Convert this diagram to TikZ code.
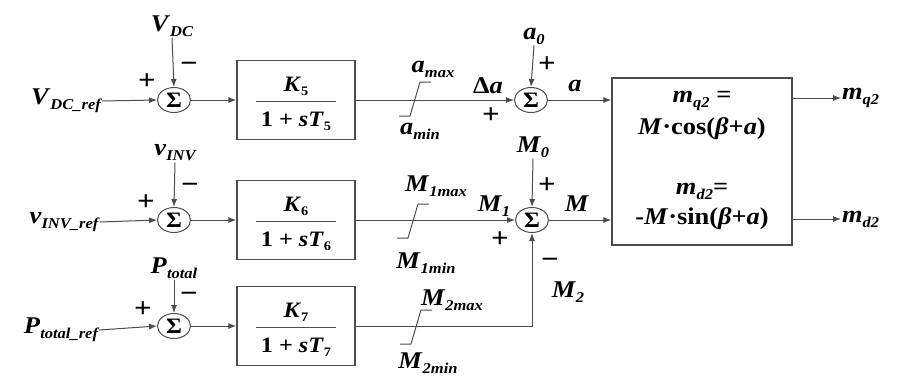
\documentclass[tikz,border=0pt]{standalone}
\usepackage{fontspec}
\setmainfont{Liberation Serif}[FakeStretch=1.1]
\usetikzlibrary{arrows.meta,shapes.geometric}
\newcommand{\bi}[1]{\textbf{\textit{#1}}}
\newcommand{\sbs}[2]{\bi{#1}\raisebox{-0.45ex}{\fontsize{15}{15}\selectfont\bfseries\itshape #2}}
\newcommand{\frsub}[1]{\raisebox{-0.4ex}{\fontsize{13}{13}\selectfont\bfseries #1}}
\tikzset{
  lnk/.style={draw=black!70, line width=1pt},
  arr/.style={lnk, -{Latex[length=8pt,width=6pt]}},
  sumnode/.style={ellipse, draw=black!70, line width=1pt, minimum width=33pt, minimum height=25pt, inner sep=0pt, font=\fontsize{22}{22}\selectfont\bfseries},
  blk/.style={draw=black!70, line width=1.2pt, minimum width=118pt, minimum height=79pt},
  txt/.style={inner sep=1pt, font=\fontsize{24}{26}\selectfont},
  sgn/.style={inner sep=0pt, font=\fontsize{28}{28}\selectfont\bfseries},
  frc/.style={inner sep=1pt, font=\fontsize{22}{24}\selectfont},
}
\newcommand{\sat}[2]{\draw[lnk] (#1-12,#2+17) -- (#1-1,#2+17) -- (#1+9,#2-17) -- (#1+20,#2-17);}
\begin{document}
\begin{tikzpicture}[x=1pt,y=-1pt]
\useasboundingbox (0,0) rectangle (902,376);
% ---- row 1
\node[sumnode] (s1) at (174,100) {Σ};
\node[txt] (vdcref) at (66,101) {\sbs{V}{DC\_ref}};
\node[txt] (vdc) at (172,26) {\sbs{V}{DC}};
\draw[arr] (vdcref.east) -- (s1.west);
\draw[arr] (vdc.south) -- (s1.north);
\node[sgn] (p1) at (147,82) {+};
\node[sgn] (m1) at (189,67) {−};
\node[blk] (b1) at (296,100) {};
\node[frc] (b1n) at (296,86) {\bi{K}\frsub{5}};
\node[frc] (b1d) at (296,121) {\textbf{1 + }\bi{sT}\frsub{5}};
\draw[black!70, line width=0.8pt] ([xshift=-40pt,yshift=-1pt]b1.center) -- ([xshift=40pt,yshift=-1pt]b1.center);
\draw[arr] (s1.east) -- (b1.west);
\sat{411}{99}
\node[txt] (amax) at (433,69) {\sbs{a}{max}};
\node[txt] (amin) at (420,131) {\sbs{a}{min}};
\node[sumnode] (s2) at (531,100) {Σ};
\draw[arr] (b1.east) -- (s2.west);
\node[txt] (a0) at (534,36) {\sbs{a}{0}};
\draw[arr] (a0.south) -- (s2.north);
\node[sgn] (p2) at (547,65) {+};
\node[txt] (da) at (488,86) {\textbf{Δ}\bi{a}};
\node[sgn] (p3) at (491,116) {+};
\node[txt] (aout) at (575,86) {\bi{a}};
% big box
\node[draw=black!70, line width=1.2pt, minimum width=180pt, minimum height=167pt] (bb) at (702,161.5) {};
\draw[arr] (s2.east) -- (s2.east -| bb.west);
\node[txt] (t1) at (702,101) {\sbs{m}{q2} \textbf{=}};
\node[txt] (t2) at (702,129) {\bi{M}\textbf{·cos(}\bi{β}\textbf{+}\bi{a}\textbf{)}};
\node[txt] (t3) at (702,191) {\sbs{m}{d2}\textbf{=}};
\node[txt] (t4) at (702,219) {\textbf{-}\bi{M}\textbf{·sin(}\bi{β}\textbf{+}\bi{a}\textbf{)}};
\node[txt, anchor=west] (mq2) at (841,98) {\sbs{m}{q2}};
\node[txt, anchor=west] (md2) at (841,219) {\sbs{m}{d2}};
\draw[arr] (mq2.west -| bb.east) -- (mq2.west);
\draw[arr] (md2.west -| bb.east) -- (md2.west);
% ---- row 2
\node[sumnode] (s3) at (174,220) {Σ};
\node[txt] (vinvref) at (64,222) {\sbs{v}{INV\_ref}};
\node[txt] (vinv) at (175,153) {\sbs{v}{INV}};
\draw[arr] (vinvref.east) -- (s3.west);
\draw[arr] (vinv.south) -- (s3.north);
\node[sgn] (p4) at (146,203) {+};
\node[sgn] (m2) at (190,188) {−};
\node[blk] (b2) at (296,220) {};
\node[frc] (b2n) at (296,206) {\bi{K}\frsub{6}};
\node[frc] (b2d) at (296,241) {\textbf{1 + }\bi{sT}\frsub{6}};
\draw[black!70, line width=0.8pt] ([xshift=-40pt,yshift=-1pt]b2.center) -- ([xshift=40pt,yshift=-1pt]b2.center);
\draw[arr] (s3.east) -- (b2.west);
\sat{409}{221}
\node[txt] (m1max) at (436,186) {\sbs{M}{1max}};
\node[txt] (m1min) at (426,263) {\sbs{M}{1min}};
\node[sumnode] (s4) at (532,220) {Σ};
\draw[arr] (b2.east) -- (s4.west);
\node[txt] (m0) at (533,147) {\sbs{M}{0}};
\draw[arr] (m0.south) -- (s4.north);
\node[sgn] (p5) at (547,186) {+};
\node[txt] (mm1) at (494,206) {\sbs{M}{1}};
\node[sgn] (p6) at (500,240) {+};
\node[txt] (mout) at (577,204) {\bi{M}};
\draw[arr] (s4.east) -- (s4.east -| bb.west);
\node[sgn] (m3) at (550,263) {−};
\node[txt] (mm2) at (568,292) {\sbs{M}{2}};
% ---- row 3
\node[sumnode] (s5) at (174,326) {Σ};
\node[txt] (ptref) at (61,330) {\sbs{P}{total\_ref}};
\node[txt] (pt) at (174,268) {\sbs{P}{total}};
\draw[arr] (ptref.east) -- (s5.west);
\draw[arr] (pt.south) -- (s5.north);
\node[sgn] (p7) at (143,310) {+};
\node[sgn] (m4) at (189,297) {−};
\node[blk] (b3) at (296,326) {};
\node[frc] (b3n) at (296,312) {\bi{K}\frsub{7}};
\node[frc] (b3d) at (296,347) {\textbf{1 + }\bi{sT}\frsub{7}};
\draw[black!70, line width=0.8pt] ([xshift=-40pt,yshift=-1pt]b3.center) -- ([xshift=40pt,yshift=-1pt]b3.center);
\draw[arr] (s5.east) -- (b3.west);
\sat{412}{327}
\node[txt] (m2max) at (452,300) {\sbs{M}{2max}};
\node[txt] (m2min) at (428,363) {\sbs{M}{2min}};
\draw[arr] (b3.east) -| (s4.south);
\end{tikzpicture}
\end{document}
